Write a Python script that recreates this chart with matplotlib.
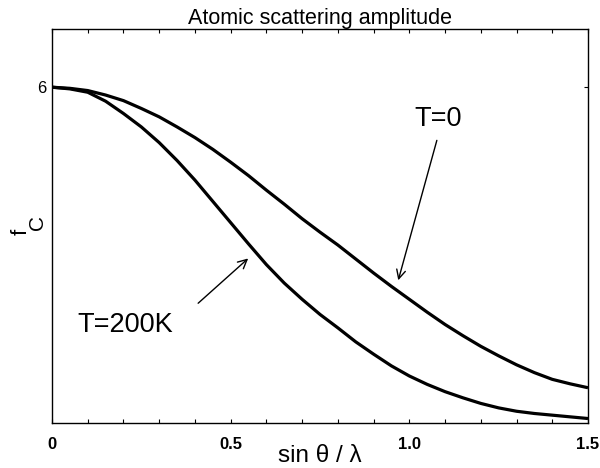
import matplotlib
matplotlib.use("Agg")
import matplotlib.pyplot as plt
from matplotlib.ticker import MultipleLocator

plt.rcParams['font.family'] = ['Liberation Sans', 'DejaVu Sans']

# Data
s = [0.00, 0.05, 0.10, 0.15, 0.20, 0.25, 0.30, 0.35, 0.40, 0.45, 0.50, 0.55, 0.60, 0.65, 0.70, 0.75,
     0.80, 0.85, 0.90, 0.95, 1.00, 1.05, 1.10, 1.15, 1.20, 1.25, 1.30, 1.35, 1.40, 1.45, 1.50]
f_T0 = [6.00, 5.98, 5.94, 5.86, 5.76, 5.62, 5.47, 5.29, 5.10, 4.89, 4.66, 4.42, 4.16, 3.91, 3.65, 3.41,
        3.18, 2.93, 2.68, 2.44, 2.21, 1.98, 1.76, 1.56, 1.37, 1.20, 1.04, 0.90, 0.78, 0.70, 0.63]
f_T200 = [6.00, 5.97, 5.91, 5.75, 5.53, 5.29, 5.01, 4.69, 4.34, 3.96, 3.58, 3.20, 2.83, 2.50, 2.21, 1.94,
          1.70, 1.45, 1.23, 1.02, 0.84, 0.69, 0.56, 0.45, 0.35, 0.27, 0.21, 0.17, 0.14, 0.11, 0.08]

xticks = [0, 0.5, 1.0, 1.5]
xticklabels = ['0', '0.5', '1.0', '1.5']
yticks = [6]
yticklabels = ['6']

fig = plt.figure(figsize=(6, 4.68), dpi=100)
ax = fig.add_axes([52/600, 1-423/468, (588-52)/600, (423-29)/468])

ax.plot(s, f_T0, color='black', lw=2.3, solid_joinstyle='round', solid_capstyle='butt')
ax.plot(s, f_T200, color='black', lw=2.3, solid_joinstyle='round', solid_capstyle='butt')

ax.set_xlim(0, 1.5)
ax.set_ylim(0, 7.04)

ax.set_xticks(xticks)
ax.set_xticklabels(xticklabels, fontsize=12, fontweight='bold')
ax.xaxis.set_minor_locator(MultipleLocator(0.1))
ax.set_yticks(yticks)
ax.set_yticklabels(yticklabels, fontsize=12)

ax.tick_params(axis='both', which='both', direction='in', top=True, right=True,
               length=3, width=0.8)
ax.tick_params(axis='x', which='major', pad=10)
ax.tick_params(axis='y', which='major', pad=4)

for sp in ax.spines.values():
    sp.set_linewidth(1.0)

ax.set_title('Atomic scattering amplitude', fontsize=15.5, pad=1)

ax.set_xlabel('sin θ / λ', fontsize=17.5)
ax.xaxis.set_label_coords(0.5, (423-456)/394)
ax.xaxis.label.set_va('center')

# y label f_C
fig.text(21/600, 1-232/468, 'f', rotation=90, fontsize=16, ha='center', va='center')
fig.text(37/600, 1-222/468, 'C', rotation=90, fontsize=15, ha='center', va='center')

# annotations
ax.text(1.080, 5.43, 'T=0', ha='center', va='center', fontsize=19.5)
ax.annotate('', xy=(0.969, 2.55), xytext=(1.077, 5.05),
            arrowprops=dict(arrowstyle='->', lw=1.0, color='black', mutation_scale=16,
                            shrinkA=0, shrinkB=0))
ax.text(0.204, 1.75, 'T=200K', ha='center', va='center', fontsize=19.5)
ax.annotate('', xy=(0.549, 2.94), xytext=(0.409, 2.14),
            arrowprops=dict(arrowstyle='->', lw=1.0, color='black', mutation_scale=16,
                            shrinkA=0, shrinkB=0))

fig.savefig('out.png', dpi=100)
